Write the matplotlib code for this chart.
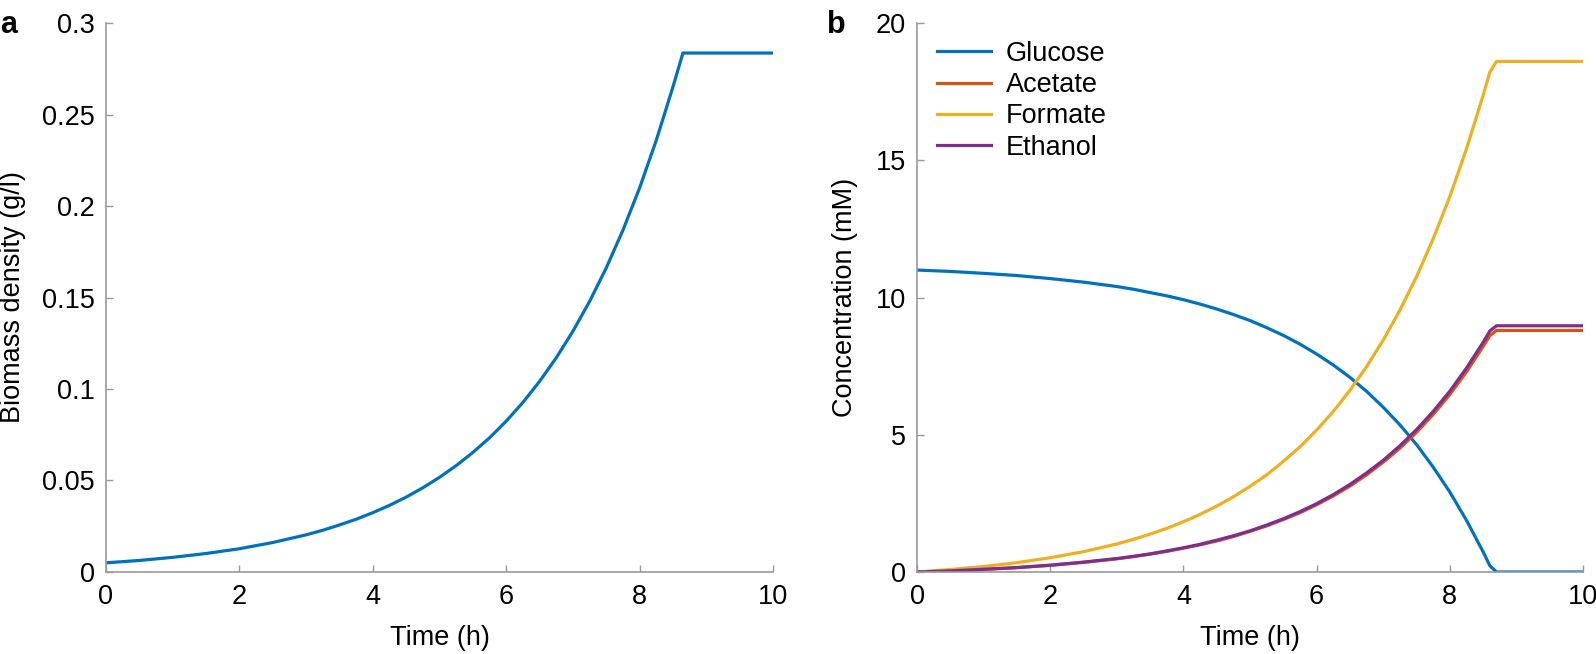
import matplotlib
matplotlib.use('Agg')
import matplotlib.pyplot as plt

# panel a: biomass, time points (h)
t_bio = [0, 0.5, 1, 1.5, 2, 2.5, 3, 3.25, 3.5, 3.75, 4, 4.25, 4.5, 4.75, 5,
         5.25, 5.5, 5.75, 6, 6.25, 6.5, 6.75, 7, 7.25, 7.5, 7.75, 8, 8.25,
         8.5, 8.65, 10]
biomass = [0.0050, 0.0063, 0.0080, 0.0101, 0.0127, 0.0161, 0.0203, 0.0228,
           0.0257, 0.0288, 0.0324, 0.0364, 0.0409, 0.0460, 0.0517, 0.0581,
           0.0653, 0.0733, 0.0824, 0.0926, 0.1041, 0.1170, 0.1315, 0.1478,
           0.1661, 0.1867, 0.2098, 0.2358, 0.2650, 0.2836, 0.2836]

# panel b: metabolites
t = [0, 0.5, 1, 1.5, 2, 2.5, 3, 3.25, 3.5, 3.75, 4, 4.25, 4.5, 4.75, 5,
     5.25, 5.5, 5.75, 6, 6.25, 6.5, 6.75, 7, 7.25, 7.5, 7.75, 8, 8.25,
     8.5, 8.6, 8.7, 10]
glucose = [11.0, 10.95, 10.88, 10.80, 10.69, 10.56, 10.40, 10.30, 10.18,
           10.06, 9.92, 9.76, 9.58, 9.38, 9.16, 8.90, 8.62, 8.30, 7.94, 7.54,
           7.09, 6.58, 6.00, 5.36, 4.64, 3.82, 2.91, 1.88, 0.73, 0.23, 0.0,
           0.0]
acetate = [0, 0.04, 0.09, 0.16, 0.24, 0.35, 0.48, 0.56, 0.65, 0.75, 0.87,
           0.99, 1.13, 1.29, 1.48, 1.68, 1.91, 2.16, 2.45, 2.77, 3.13, 3.54,
           4.00, 4.51, 5.09, 5.74, 6.47, 7.29, 8.22, 8.61, 8.80, 8.80]
formate = [0, 0.09, 0.20, 0.34, 0.52, 0.74, 1.02, 1.19, 1.38, 1.59, 1.83,
           2.10, 2.40, 2.74, 3.12, 3.54, 4.03, 4.56, 5.17, 5.85, 6.62, 7.48,
           8.45, 9.54, 10.76, 12.14, 13.68, 15.42, 17.37, 18.21, 18.60, 18.60]
ethanol = [0, 0.04, 0.10, 0.16, 0.25, 0.36, 0.49, 0.57, 0.66, 0.77, 0.88,
           1.01, 1.16, 1.32, 1.50, 1.71, 1.94, 2.20, 2.49, 2.82, 3.19, 3.61,
           4.07, 4.60, 5.19, 5.85, 6.59, 7.43, 8.37, 8.78, 8.97, 8.97]

names = ['Glucose', 'Acetate', 'Formate', 'Ethanol']
colors = ['#0072BD', '#D95319', '#EDB120', '#7E2F8E']

plt.rcParams['font.family'] = ['Liberation Sans', 'DejaVu Sans']
plt.rcParams['font.size'] = 19.5

fig = plt.figure(figsize=(15.96, 6.54), dpi=100)
ax1 = fig.add_axes([0.0664, 0.1254, 0.4179, 0.8394])
ax2 = fig.add_axes([0.5746, 0.1254, 0.4173, 0.8394])

ax1.plot(t_bio, biomass, color=colors[0], lw=2.3)
ax1.set_ylim(0, 0.3)
ax1.set_yticks([0, 0.05, 0.1, 0.15, 0.2, 0.25, 0.3])
ax1.set_yticklabels(['0', '0.05', '0.1', '0.15', '0.2', '0.25', '0.3'])
ax1.set_ylabel('Biomass density (g/l)', va='center')
ax1.yaxis.set_label_coords(-0.140, 0.5)

for name, vals, c in zip(names, [glucose, acetate, formate, ethanol], colors):
    ax2.plot(t, vals, color=c, lw=2.3, label=name)
ax2.set_ylim(0, 20)
ax2.set_yticks([0, 5, 10, 15, 20])
ax2.set_ylabel('Concentration (mM)', va='center')
ax2.yaxis.set_label_coords(-0.108, 0.5)
ax2.legend(loc='upper left', bbox_to_anchor=(0.03, 0.968), frameon=False,
           borderpad=0, borderaxespad=0, handlelength=2.0, handletextpad=0.55,
           labelspacing=0.2)

for ax in (ax1, ax2):
    ax.set_xlim(0, 10)
    ax.set_xticks([0, 2, 4, 6, 8, 10])
    ax.set_xlabel('Time (h)', va='center')
    ax.xaxis.set_label_coords(0.5, -0.120)
    for s in ('top', 'right'):
        ax.spines[s].set_visible(False)
    for s in ('left', 'bottom'):
        ax.spines[s].set_color('#999999')
        ax.spines[s].set_linewidth(1.2)
    ax.tick_params(direction='in', length=5, width=1, color='#999999',
                   labelcolor='black')
    ax.tick_params(axis='x', pad=9)
    ax.tick_params(axis='y', pad=8)

fig.text(0.0, 0.985, 'a', fontsize=22, fontweight='bold', va='top')
fig.text(0.518, 0.985, 'b', fontsize=22, fontweight='bold', va='top')

fig.savefig('out.png', dpi=100)
